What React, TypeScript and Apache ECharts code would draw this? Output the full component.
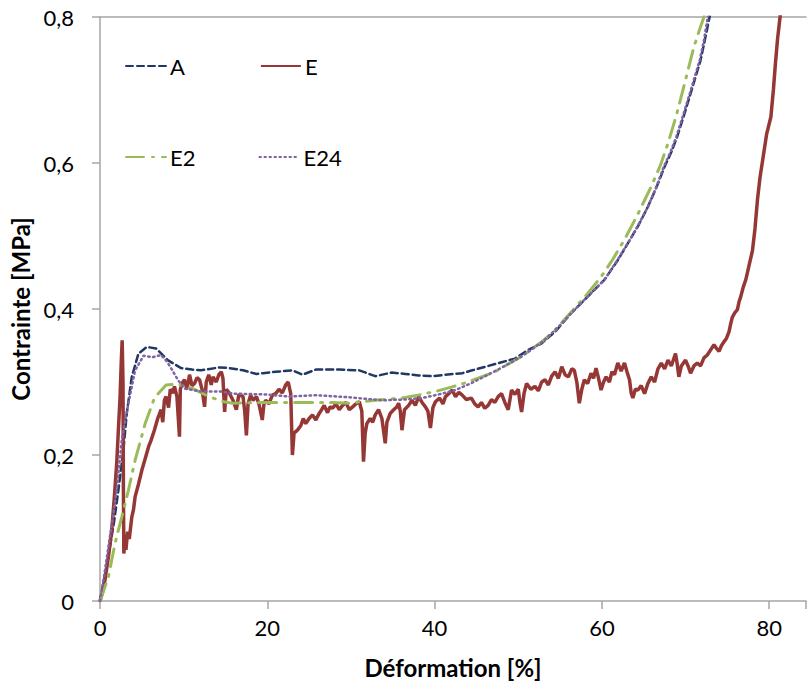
import React, { useEffect, useRef } from "react";
import * as echarts from "echarts";

const xTicks = [0, 20, 40, 60, 80];
const yTicks = [0, 0.2, 0.4, 0.6, 0.8];
const seriesNames = ["A", "E", "E2", "E24"];

const dataA: [number, number][] = [
  [0, 0], [0.5, 0.03], [1.19, 0.074], [1.7, 0.11], [2.2, 0.152], [2.8, 0.207], [3.2, 0.257], [3.8, 0.307],
  [4.6, 0.339], [5.6, 0.348], [6.7, 0.346], [8.1, 0.33], [9.7, 0.319], [11.0, 0.317], [12.1, 0.316],
  [14.3, 0.32], [15.5, 0.319], [17.1, 0.316], [18.7, 0.311], [19.5, 0.312], [21.0, 0.314], [23, 0.316],
  [24.2, 0.31], [25.8, 0.317], [28.6, 0.317], [31, 0.316], [32.9, 0.308], [34.9, 0.313], [36.5, 0.311],
  [38.1, 0.309], [39.7, 0.308], [41.3, 0.31], [43.3, 0.312], [44.5, 0.316], [46.4, 0.322], [48.0, 0.327],
  [49.6, 0.332], [51.2, 0.344], [52.8, 0.353], [54.5, 0.37], [56.3, 0.394], [58.3, 0.417], [60.3, 0.44],
  [61.8, 0.465], [63.1, 0.49], [64.3, 0.513], [65.5, 0.54], [66.5, 0.566], [67.5, 0.595], [68.3, 0.615],
  [69.0, 0.636], [69.8, 0.665], [70.6, 0.695], [71.2, 0.718], [71.8, 0.741], [72.3, 0.768], [72.8, 0.796],
  [73.4, 0.83],
];

const dataE: [number, number][] = [
  [0, 0], [0.3, 0.012], [0.6, 0.029], [1.0, 0.06], [1.4, 0.097], [1.7, 0.14], [2.0, 0.189], [2.2, 0.235],
  [2.4, 0.28], [2.55, 0.33], [2.65, 0.357], [2.75, 0.3], [2.8, 0.15], [2.85, 0.065], [3.0, 0.09], [3.1, 0.07],
  [3.3, 0.095], [3.5, 0.085], [3.8, 0.115], [4.0, 0.125], [4.2, 0.143], [4.6, 0.16], [5.0, 0.179], [5.4, 0.195],
  [5.8, 0.211], [6.1, 0.22], [6.5, 0.234], [6.9, 0.25], [7.3, 0.262], [7.5, 0.245], [7.7, 0.275], [7.9, 0.28],
  [8.2, 0.265], [8.4, 0.29], [8.7, 0.285], [8.9, 0.294], [9.2, 0.28], [9.5, 0.225], [9.6, 0.29], [9.9, 0.3],
  [10.1, 0.303], [10.4, 0.29], [10.7, 0.31], [11.0, 0.295], [11.3, 0.298], [11.6, 0.306], [11.9, 0.303],
  [12.2, 0.29], [12.5, 0.266], [12.7, 0.3], [13.0, 0.31], [13.3, 0.296], [13.5, 0.307], [13.9, 0.3],
  [14.2, 0.31], [14.5, 0.314], [14.7, 0.305], [14.9, 0.259], [15.1, 0.29], [15.5, 0.284], [15.9, 0.275],
  [16.3, 0.262], [16.6, 0.283], [17.1, 0.28], [17.3, 0.26], [17.5, 0.227], [17.7, 0.27], [18.0, 0.282],
  [18.3, 0.275], [18.7, 0.28], [19.0, 0.27], [19.4, 0.248], [19.6, 0.27], [19.8, 0.275], [20.2, 0.27],
  [20.6, 0.282], [21.0, 0.284], [21.4, 0.29], [21.8, 0.285], [22.2, 0.296], [22.5, 0.3], [22.8, 0.284],
  [23.0, 0.2], [23.2, 0.23], [23.6, 0.234], [24.0, 0.24], [24.3, 0.25], [24.6, 0.243], [25.0, 0.25],
  [25.4, 0.255], [25.8, 0.248], [26.2, 0.257], [26.5, 0.262], [26.8, 0.268], [27.2, 0.258], [27.5, 0.266],
  [27.8, 0.264], [28.2, 0.27], [28.6, 0.262], [29.0, 0.268], [29.4, 0.272], [29.8, 0.262], [30.2, 0.266],
  [30.6, 0.27], [31.0, 0.273], [31.3, 0.26], [31.5, 0.191], [31.7, 0.23], [31.9, 0.243], [32.3, 0.25],
  [32.6, 0.245], [32.9, 0.255], [33.3, 0.262], [33.7, 0.25], [34.1, 0.216], [34.3, 0.245], [34.7, 0.257],
  [35.1, 0.262], [35.5, 0.266], [35.7, 0.271], [35.9, 0.26], [36.1, 0.234], [36.4, 0.262], [36.9, 0.268],
  [37.3, 0.275], [37.7, 0.268], [38.1, 0.28], [38.5, 0.272], [38.9, 0.266], [39.2, 0.26], [39.5, 0.237],
  [39.8, 0.265], [40.1, 0.273], [40.6, 0.278], [41.0, 0.27], [41.3, 0.28], [41.7, 0.284], [42.1, 0.289],
  [42.5, 0.28], [42.9, 0.286], [43.3, 0.282], [43.8, 0.276], [44.4, 0.278], [44.8, 0.27], [45.2, 0.266],
  [45.6, 0.272], [46.0, 0.264], [46.4, 0.268], [46.8, 0.276], [47.2, 0.272], [47.6, 0.28], [48.0, 0.284],
  [48.4, 0.272], [48.8, 0.262], [49.2, 0.289], [49.6, 0.283], [50.0, 0.29], [50.2, 0.272], [50.4, 0.259],
  [50.7, 0.285], [51.0, 0.298], [51.5, 0.29], [52.0, 0.294], [52.4, 0.288], [52.8, 0.3], [53.2, 0.303],
  [53.6, 0.296], [54.0, 0.308], [54.4, 0.314], [54.8, 0.305], [55.2, 0.321], [55.6, 0.31], [56.0, 0.307],
  [56.4, 0.318], [56.7, 0.316], [57.0, 0.3], [57.3, 0.271], [57.6, 0.29], [57.9, 0.303], [58.3, 0.298],
  [58.7, 0.312], [59.0, 0.305], [59.3, 0.319], [59.6, 0.305], [59.9, 0.289], [60.2, 0.3], [60.5, 0.307],
  [60.9, 0.3], [61.2, 0.314], [61.5, 0.31], [61.9, 0.326], [62.3, 0.315], [62.7, 0.326], [63.0, 0.314],
  [63.3, 0.303], [63.5, 0.285], [63.7, 0.278], [64.0, 0.29], [64.3, 0.289], [64.7, 0.295], [65.1, 0.284],
  [65.5, 0.298], [65.9, 0.307], [66.3, 0.3], [66.7, 0.318], [67.1, 0.326], [67.5, 0.318], [67.9, 0.33],
  [68.3, 0.322], [68.8, 0.339], [69.0, 0.325], [69.2, 0.307], [69.5, 0.322], [70.0, 0.33], [70.3, 0.322],
  [70.6, 0.312], [71.0, 0.322], [71.4, 0.326], [71.8, 0.322], [72.2, 0.333], [72.6, 0.337], [73.0, 0.344],
  [73.4, 0.351], [73.7, 0.346], [74.0, 0.342], [74.3, 0.35], [74.6, 0.355], [74.9, 0.36], [75.2, 0.369],
  [75.4, 0.38], [75.6, 0.389], [75.9, 0.395], [76.2, 0.399], [76.4, 0.41], [76.6, 0.417], [76.9, 0.43],
  [77.2, 0.44], [77.6, 0.46], [78.0, 0.48], [78.3, 0.51], [78.6, 0.55], [78.9, 0.58], [79.3, 0.61],
  [79.7, 0.64], [80.2, 0.663], [80.5, 0.7], [80.75, 0.737], [81.0, 0.77], [81.3, 0.8], [81.5, 0.83],
];

const dataE2: [number, number][] = [
  [0, 0], [0.2, 0.006], [1.0, 0.033], [1.8, 0.079], [2.6, 0.115], [3.4, 0.152], [4.2, 0.193], [5.4, 0.243],
  [6.5, 0.278], [7.9, 0.296], [9.3, 0.297], [11.3, 0.29], [12.5, 0.283], [13.5, 0.278], [14.8, 0.273],
  [15.9, 0.271], [19.8, 0.272], [23.8, 0.272], [27.8, 0.272], [29.8, 0.271], [32.9, 0.275], [36.1, 0.278],
  [38.0, 0.282], [40.1, 0.287], [42.0, 0.293], [44.0, 0.3], [47.2, 0.314], [50.4, 0.335], [52.8, 0.355],
  [54.4, 0.371], [56.5, 0.398], [58.2, 0.42], [59.9, 0.444], [61.3, 0.468], [62.7, 0.495], [64.3, 0.53],
  [65.9, 0.568], [67.0, 0.597], [67.9, 0.627], [68.9, 0.665], [69.8, 0.705], [70.4, 0.732], [71.0, 0.759],
  [71.6, 0.78], [72.2, 0.8], [72.6, 0.83],
];

const dataE24: [number, number][] = [
  [0, 0], [0.5, 0.035], [1.0, 0.074], [1.5, 0.112], [2.0, 0.152], [2.6, 0.22], [3.4, 0.271], [4.2, 0.316],
  [5.2, 0.336], [6.3, 0.334], [7.3, 0.337], [8.0, 0.328], [8.5, 0.319], [9.3, 0.303], [10.1, 0.291],
  [12.1, 0.287], [14.5, 0.287], [15.9, 0.284], [19.8, 0.283], [22.6, 0.28], [25.8, 0.282], [29.8, 0.279],
  [33.7, 0.275], [36.5, 0.276], [38.5, 0.278], [40.5, 0.283], [42.5, 0.289], [44.5, 0.299], [46.4, 0.31],
  [48.4, 0.322], [50.4, 0.335], [51.8, 0.346], [53.2, 0.358], [55, 0.378], [56.3, 0.394], [58.3, 0.417],
  [60.3, 0.44], [61.8, 0.466], [63.1, 0.49], [64.3, 0.514], [65.5, 0.54], [66.5, 0.567], [67.4, 0.595],
  [68.2, 0.615], [68.9, 0.636], [69.7, 0.665], [70.5, 0.695], [71.1, 0.718], [71.7, 0.741], [72.2, 0.768],
  [72.6, 0.796], [73.1, 0.83],
];

const FONT = "Lato";
const AXIS_COLOR = "#A6A6A6";

export default function App() {
  const ref = useRef<HTMLDivElement>(null);
  useEffect(() => {
    document.body.style.margin = "0";
    if (!ref.current) return;
    const chart = echarts.init(ref.current, null, { renderer: "svg" });
    const xMax = 84.4;
    const lineSeries = (name: string, data: [number, number][], color: string, width: number, type: any) => ({
      name,
      type: "line",
      data,
      showSymbol: false,
      symbol: "none",
      xAxisIndex: 0,
      yAxisIndex: 0,
      lineStyle: { color, width, type, cap: type === "solid" ? "butt" : "round" },
      itemStyle: { color },
      clip: true,
      z: 2,
    });
    const legendBase = {
      left: 125,
      padding: 0,
      itemWidth: 40,
      itemHeight: 20,
      itemStyle: { color: "transparent", borderColor: "transparent", borderWidth: 0 },
      textStyle: { fontSize: 22, fontFamily: FONT, color: "#000", padding: [0, 0, 0, -1] },
    };
    chart.setOption({
      animation: false,
      backgroundColor: "#fff",
      textStyle: { fontFamily: FONT },
      grid: { left: 100, right: 0, top: 17, bottom: 92, containLabel: false },
      legend: [
        { ...legendBase, data: [seriesNames[0], seriesNames[1]], top: 55, itemGap: 75 },
        { ...legendBase, data: [seriesNames[2], seriesNames[3]], top: 146, itemGap: 63 },
      ],
      xAxis: [
        {
          type: "value",
          min: 0,
          max: xMax,
          interval: 20,
          name: "Déformation [%]",
          nameLocation: "middle",
          nameGap: 54,
          nameTextStyle: { fontSize: 24, fontWeight: "bold", fontFamily: FONT, color: "#000" },
          axisLine: { show: true, lineStyle: { color: AXIS_COLOR, width: 1.5 } },
          axisTick: { show: true, inside: false, length: 8, lineStyle: { color: AXIS_COLOR, width: 1.5 } },
          axisLabel: {
            fontSize: 22,
            fontFamily: FONT,
            color: "#000",
            margin: 15,
            formatter: (v: number) => (xTicks.includes(v) ? String(v) : ""),
          },
          splitLine: { show: false },
        },
        {
          type: "value",
          position: "top",
          min: 0,
          max: xMax,
          interval: 20,
          axisLine: { show: true, lineStyle: { color: AXIS_COLOR, width: 1.5 } },
          axisTick: { show: false },
          axisLabel: { show: false },
          splitLine: { show: false },
        },
      ],
      yAxis: {
        type: "value",
        min: 0,
        max: 0.8,
        interval: 0.2,
        name: "Contrainte [MPa]",
        nameLocation: "middle",
        nameGap: 66,
        nameTextStyle: { fontSize: 24, fontWeight: "bold", fontFamily: FONT, color: "#000" },
        axisLine: { show: true, lineStyle: { color: AXIS_COLOR, width: 1.5 } },
        axisTick: { show: true, inside: false, length: 8, lineStyle: { color: AXIS_COLOR, width: 1.5 } },
        axisLabel: {
          fontSize: 22,
          fontFamily: FONT,
          color: "#000",
          margin: 26,
          formatter: (v: number) => {
            const t = yTicks.find((k) => Math.abs(k - v) < 1e-9);
            if (t === undefined) return "";
            return t === 0 ? "0" : t.toFixed(1).replace(".", ",");
          },
        },
        splitLine: { show: false },
      },
      series: [
        lineSeries("A", dataA, "#1F3864", 2.5, [7, 4]),
        lineSeries("E", dataE, "#953735", 3.5, "solid"),
        lineSeries("E2", dataE2, "#9BBB59", 3, [18, 8, 2, 8]),
        lineSeries("E24", dataE24, "#8064A2", 2.5, [1.5, 3.5]),
      ],
    });
    return () => chart.dispose();
  }, []);
  return <div ref={ref} style={{ width: 809, height: 693 }} />;
}
